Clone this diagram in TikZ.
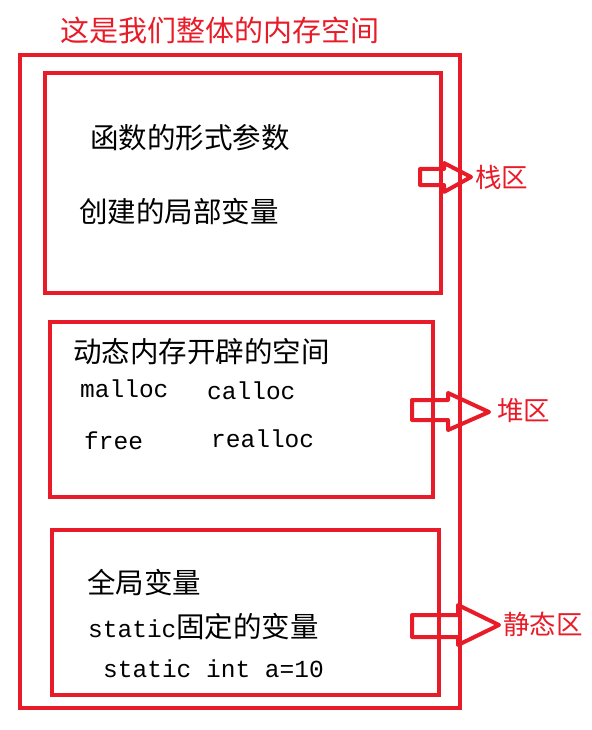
\documentclass[tikz,border=0pt]{standalone}
\usepackage{fontspec}
\newfontfamily\cjk{Noto Sans CJK SC}
\newfontfamily\mono{Liberation Mono}
\definecolor{memred}{RGB}{232,28,40}
\begin{document}
\begin{tikzpicture}[x=1pt,y=-1pt,
  frame/.style={draw=memred,line width=4.5pt},
  region/.style={draw=memred,line width=4pt},
  blockarrow/.style={draw=memred,line width=4pt,line join=round},
  cntext/.style={font=\cjk\fontsize{28.5}{32}\selectfont,text=black,anchor=west,inner sep=0pt},
  mtext/.style={font=\mono\fontsize{24.5}{28}\selectfont,text=black,anchor=west,inner sep=0pt},
  lbl/.style={font=\cjk\fontsize{26.5}{30}\selectfont,text=memred,anchor=west,inner sep=0pt}]
\useasboundingbox (0,0) rectangle (591,730);
% title
\node[font=\cjk\fontsize{29}{32}\selectfont,text=memred,anchor=west,inner sep=0pt] (title) at (60,30) {这是我们整体的内存空间};
% outer frame
\draw[frame] (20,55) rectangle (460,708);
% boxes
\draw[region] (45,73) rectangle (441,293);
\draw[region] (50,322) rectangle (433,497);
\draw[region] (52,530) rectangle (439,695);
% stack
\node[cntext] (p1) at (90,138) {函数的形式参数};
\node[cntext] (p2) at (79,212) {创建的局部变量};
% heap
\node[cntext] (h1) at (73,352) {动态内存开辟的空间};
\node[mtext] (h2) at (80,389) {malloc};
\node[mtext] (h3) at (207,391) {calloc};
\node[mtext] (h4) at (84,441) {free};
\node[mtext] (h5) at (211,439) {realloc};
% static
\node[cntext] (s1) at (87,583) {全局变量};
\node[font=\fontsize{24.5}{28}\selectfont,anchor=west,inner sep=0pt] (s2) at (88,627) {\mono static\cjk\fontsize{28.5}{32}\selectfont 固定的变量};
\node[mtext] (s3) at (103,669) {static int a=10};
% arrows
\draw[blockarrow] (420,169) -- (444,169) -- (444,163) -- (471,177) -- (444,192) -- (444,185) -- (420,185) -- cycle;
\draw[blockarrow] (412,400) -- (448,400) -- (448,393) -- (489,412) -- (448,430) -- (448,420) -- (412,420) -- cycle;
\draw[blockarrow] (412,615) -- (458,615) -- (458,605) -- (499,625) -- (458,645) -- (458,637) -- (412,637) -- cycle;
% labels
\node[lbl] (l1) at (475,177) {栈区};
\node[lbl] (l2) at (497,411) {堆区};
\node[lbl] (l3) at (503,624) {静态区};
\end{tikzpicture}
\end{document}
